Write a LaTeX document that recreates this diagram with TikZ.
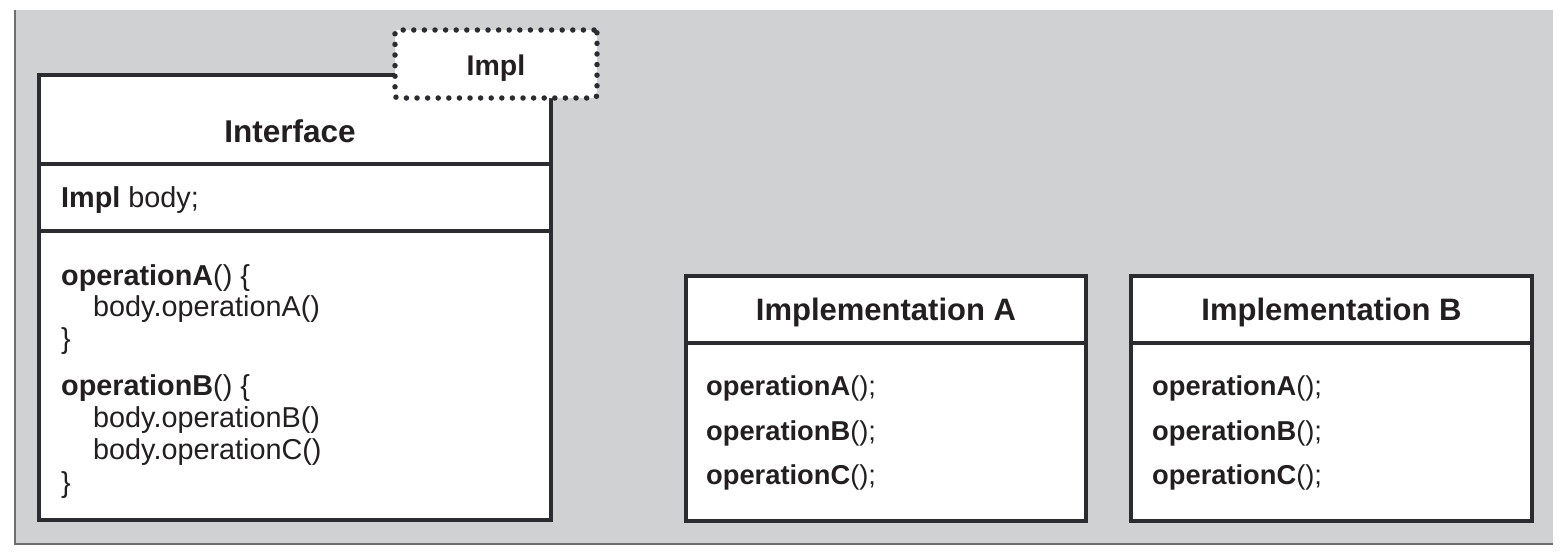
\documentclass[tikz,border=0pt]{standalone}
\usepackage{fontspec}
\setmainfont{Liberation Sans}
\definecolor{bgc}{HTML}{D0D1D3}
\definecolor{edgec}{HTML}{6D6E71}
\definecolor{linec}{HTML}{2B2B30}
\definecolor{txtc}{HTML}{231F20}
\begin{document}
\begin{tikzpicture}[x=1pt,y=-1pt,
  box/.style={draw=linec, line width=4pt, fill=white, rectangle, inner sep=0pt, outer sep=0pt},
  dotbox/.style={draw=linec, line width=5.5pt, fill=white, rectangle, inner sep=0pt, outer sep=0pt,
     dash pattern=on 0pt off 10.6pt, line cap=round, rounded corners=3pt},
  divider/.style={draw=linec, line width=4pt},
  hdr/.style={font=\fontsize{31}{36}\selectfont\bfseries, text=txtc, anchor=base, inner sep=0pt},
  body/.style={font=\fontsize{28.8}{34}\selectfont, text=txtc, anchor=base west, inner sep=0pt},
  ops/.style={font=\fontsize{27.3}{32}\selectfont, text=txtc, anchor=base west, inner sep=0pt},
  ]
\useasboundingbox (0,0) rectangle (1567,554);
% background panel
\fill[bgc] (15,10) rectangle (1553,544);
\draw[edgec, line width=1.5pt] (15,10) -- (15,544) -- (1553,544);

% Interface box
\node[box, minimum width=512pt, minimum height=445pt] (iface) at (295,297.5) {};
\coordinate (d1) at (0,164);
\coordinate (d2) at (0,231);
\draw[divider] (iface.west |- d1) -- (iface.east |- d1);
\draw[divider] (iface.west |- d2) -- (iface.east |- d2);

% Impl dotted box
\node[dotbox, minimum width=202pt, minimum height=68pt] (impl) at (496,64) {};
\node[hdr, font=\fontsize{28.5}{34}\selectfont\bfseries] (impltxt) at (496,75) {Impl};

\node[hdr, font=\fontsize{31.5}{36}\selectfont\bfseries] (ifacetxt) at (290,142) {Interface};
\node[body] (field) at (61,207) {\textbf{Impl} body;};
\node[body] (l1) at (61,285) {\textbf{operationA}() \{};
\node[body] (l2) at (93,316) {body.operationA()};
\node[body] (l3) at (61,348) {\}};
\node[body] (l4) at (61,395) {\textbf{operationB}() \{};
\node[body] (l5) at (93,427) {body.operationB()};
\node[body] (l6) at (93,459) {body.operationC()};
\node[body] (l7) at (61,492) {\}};

% Implementation A
\node[box, minimum width=400pt, minimum height=245pt] (ia) at (886,398.5) {};
\coordinate (d3) at (0,343);
\draw[divider] (ia.west |- d3) -- (ia.east |- d3);
\node[hdr] (iatxt) at (886,320) {Implementation A};
\node[ops] (a1) at (706,395) {\textbf{operationA}();};
\node[ops] (a2) at (706,440) {\textbf{operationB}();};
\node[ops] (a3) at (706,484) {\textbf{operationC}();};

% Implementation B
\node[box, minimum width=401pt, minimum height=245pt] (ib) at (1331.5,398.5) {};
\draw[divider] (ib.west |- d3) -- (ib.east |- d3);
\node[hdr] (ibtxt) at (1331.5,320) {Implementation B};
\node[ops] (b1) at (1152,395) {\textbf{operationA}();};
\node[ops] (b2) at (1152,440) {\textbf{operationB}();};
\node[ops] (b3) at (1152,484) {\textbf{operationC}();};
\end{tikzpicture}
\end{document}
